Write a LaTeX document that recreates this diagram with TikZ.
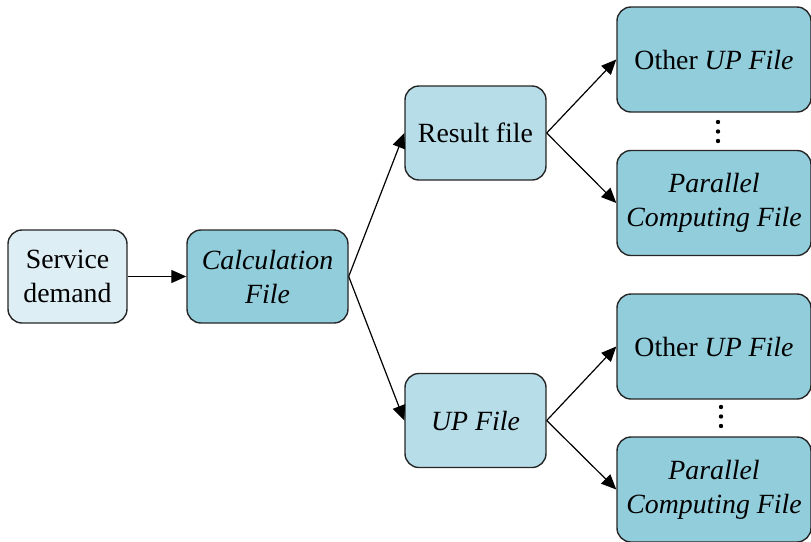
\documentclass[tikz,border=0pt]{standalone}
\usepackage{fontspec}
\setmainfont{Liberation Serif}
\usetikzlibrary{arrows.meta}
\definecolor{paleblue}{HTML}{DDEEF4}
\definecolor{midblue}{HTML}{B7DDE8}
\definecolor{deepblue}{HTML}{92CDDC}
\begin{document}
\begin{tikzpicture}[x=0.5pt,y=-0.5pt,
        box/.style={draw=black!85,line width=0.7pt,rounded corners=7pt,align=center,inner sep=0pt,
            font=\fontsize{13.9}{17}\selectfont},
        arr/.style={-{Triangle[length=7.5pt,width=6.5pt]},line width=0.6pt}]
        \useasboundingbox (0,0) rectangle (811,542);
        \clip (0,0) rectangle (811,542);
        \node[box,fill=paleblue,minimum width=59.5pt,minimum height=46.5pt] at (67.5,276.5) (demand) {Service\\demand};
        \node[box,fill=deepblue,minimum width=80.5pt,minimum height=46.5pt] at (267.5,276.5) (calc) {\textit{Calculation}\\\textit{File}};
        \node[box,fill=midblue,minimum width=70.5pt,minimum height=47pt] at (475.5,133) (result) {Result file};
        \node[box,fill=midblue,minimum width=70.5pt,minimum height=47pt] at (475.5,420.5) (up) {\textit{UP File}};
        \node[box,fill=deepblue,minimum width=97pt,minimum height=52.5pt] at (714,59.5) (other1) {Other \textit{UP File}};
        \node[box,fill=deepblue,minimum width=97pt,minimum height=52.5pt] at (714,203) (par1) {\textit{Parallel}\\\textit{Computing File}};
        \node[box,fill=deepblue,minimum width=97pt,minimum height=52.5pt] at (714,346.5) (other2) {Other \textit{UP File}};
        \node[box,fill=deepblue,minimum width=97pt,minimum height=52.5pt] at (714,489.5) (par2) {\textit{Parallel}\\\textit{Computing File}};
        % vertical ellipsis between the file boxes
        \foreach \y in {122,131.5,141}
            \fill (718,\y) circle (2.2);
        \foreach \y in {407,416.5,426}
            \fill (721,\y) circle (2.2);
        \draw[arr] (demand) -- (calc);
        \draw[arr] (calc.east) -- (result.west);
        \draw[arr] (calc.east) -- (up.west);
        \draw[arr] (result.east) -- (other1.west);
        \draw[arr] (result.east) -- (par1.west);
        \draw[arr] (up.east) -- (other2.west);
        \draw[arr] (up.east) -- (par2.west);
    \end{tikzpicture}
\end{document}
